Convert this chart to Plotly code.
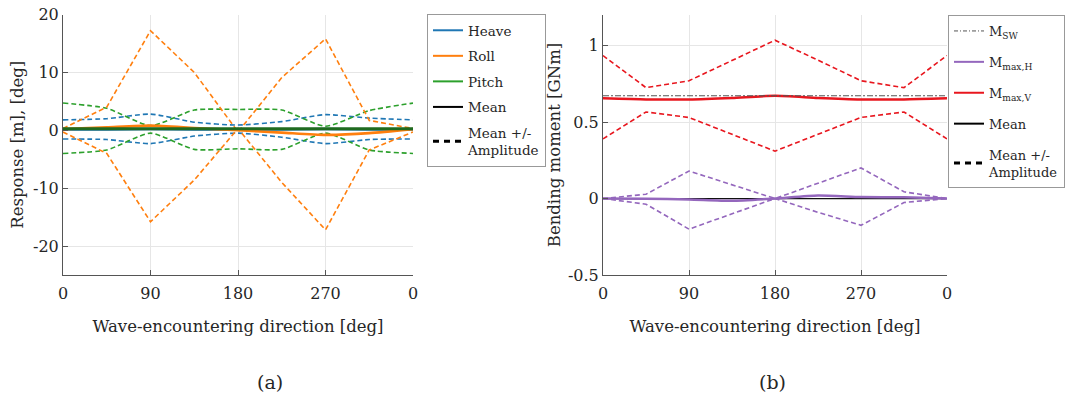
import plotly.graph_objects as go

# ---------------- data ----------------
direction = [0, 45, 90, 135, 180, 225, 270, 315, 360]
tick_vals = [0, 90, 180, 270, 360]
tick_text = ["0", "90", "180", "270", "0"]
resp_ticks = [-20, -10, 0, 10, 20]
resp_labels = ["-20", "-10", "0", "10", "20"]
bm_ticks = [-0.5, 0, 0.5, 1]
bm_labels = ["-0.5", "0", "0.5", "1"]

# (a) motions
heave_mean = [0.15, 0.15, 0.2, 0.15, 0.15, 0.15, 0.2, 0.15, 0.15]
heave_upper = [1.8, 2.0, 2.8, 1.4, 0.9, 1.5, 2.7, 2.1, 1.8]
heave_lower = [-1.5, -1.6, -2.3, -1.0, -0.5, -1.2, -2.3, -1.6, -1.5]

roll_mean = [0.2, 0.5, 0.8, 0.4, 0.0, -0.4, -0.8, -0.5, 0.2]
roll_upper = [0.3, 4.0, 17.2, 10.0, -0.3, 9.1, 15.8, 1.7, 0.3]
roll_lower = [-0.3, -4.0, -15.8, -8.6, 0.3, -9.0, -17.2, -3.4, -0.3]

pitch_mean = [0.25, 0.25, 0.25, 0.25, 0.25, 0.25, 0.25, 0.25, 0.25]
pitch_upper = [4.7, 3.8, 0.8, 3.5, 3.6, 3.5, 0.7, 3.4, 4.7]
pitch_lower = [-4.0, -3.4, -0.5, -3.3, -3.2, -3.3, -0.5, -3.4, -4.0]

# (b) bending moments
msw = [0.672] * 9
mh_mean = [0.0, -0.002, -0.006, -0.015, 0.0, 0.02, 0.01, 0.008, 0.0]
mh_upper = [0.0, 0.028, 0.18, 0.09, 0.0, 0.1, 0.2, 0.044, 0.0]
mh_lower = [0.0, -0.037, -0.2, -0.1, 0.0, -0.09, -0.175, -0.026, 0.0]
mv_mean = [0.655, 0.648, 0.648, 0.658, 0.672, 0.658, 0.648, 0.648, 0.655]
mv_upper = [0.935, 0.725, 0.77, 0.905, 1.035, 0.905, 0.77, 0.725, 0.935]
mv_lower = [0.39, 0.566, 0.53, 0.42, 0.31, 0.42, 0.53, 0.566, 0.39]
zero_line = [0.0] * 9

# ---------------- style ----------------
BLUE = "#1f77b4"
ORANGE = "#ff7f0e"
GREEN = "#2ca02c"
RED = "#e8161e"
PURPLE = "#9467bd"
FONT = "DejaVu Serif"
TXT = "#262626"
DASH = "5px,3px"

fig = go.Figure()


def add(x, y, color, width, dash, xa, ya, shape="linear"):
    line = dict(color=color, width=width, dash=dash, shape=shape)
    if shape == "spline":
        line["smoothing"] = 0.6
    fig.add_trace(go.Scatter(x=x, y=y, mode="lines", xaxis=xa, yaxis=ya,
                             line=line, showlegend=False, hoverinfo="skip"))


# panel (a)
add(direction, heave_upper, BLUE, 1.6, DASH, "x", "y", "spline")
add(direction, heave_lower, BLUE, 1.6, DASH, "x", "y", "spline")
add(direction, pitch_upper, GREEN, 1.6, DASH, "x", "y", "spline")
add(direction, pitch_lower, GREEN, 1.6, DASH, "x", "y", "spline")
add(direction, roll_upper, ORANGE, 1.6, DASH, "x", "y")
add(direction, roll_lower, ORANGE, 1.6, DASH, "x", "y")
add(direction, heave_mean, BLUE, 2.5, "solid", "x", "y", "spline")
add(direction, roll_mean, ORANGE, 2.6, "solid", "x", "y", "spline")
add(direction, pitch_mean, "#1f6a1f", 3, "solid", "x", "y", "spline")

# panel (b)
add(direction, zero_line, "#111111", 1.2, "solid", "x2", "y2")
add(direction, mh_upper, PURPLE, 1.6, DASH, "x2", "y2")
add(direction, mh_lower, PURPLE, 1.6, DASH, "x2", "y2")
add(direction, mv_upper, RED, 1.6, DASH, "x2", "y2")
add(direction, mv_lower, RED, 1.6, DASH, "x2", "y2")
add(direction, mh_mean, PURPLE, 2.5, "solid", "x2", "y2", "spline")
add(direction, mv_mean, RED, 2.5, "solid", "x2", "y2", "spline")
add(direction, msw, "#555555", 1.2, "6px,2px,2px,2px", "x2", "y2")


# legend entries
def leg(name, color, dash, legend, group, width=2):
    fig.add_trace(go.Scatter(
        x=[None], y=[None], mode="lines", name=name, legend=legend,
        legendgroup=group, line=dict(color=color, width=width, dash=dash),
        xaxis="x" if legend == "legend" else "x2",
        yaxis="y" if legend == "legend" else "y2"))


leg("Heave", BLUE, "solid", "legend", "a1")
leg("Roll", ORANGE, "solid", "legend", "a2")
leg("Pitch", GREEN, "solid", "legend", "a3")
leg("Mean", "black", "solid", "legend", "a4")
leg("Mean +/-<br>Amplitude", "black", "6px,5px", "legend", "a5", 3)

leg("M<sub>SW</sub>", "#555555", "4px,2px,1px,2px", "legend2", "b1", 1)
leg("M<sub>max,H</sub>", PURPLE, "solid", "legend2", "b2")
leg("M<sub>max,V</sub>", RED, "solid", "legend2", "b3")
leg("Mean", "black", "solid", "legend2", "b4")
leg("Mean +/-<br>Amplitude", "black", "6px,5px", "legend2", "b5", 3)

W, H = 1065, 396
axis_common = dict(
    showgrid=True, gridcolor="#e6e6e6", gridwidth=1,
    showline=True, linecolor="#555555", linewidth=1,
    ticks="inside", ticklen=5, tickcolor="#555555",
    zeroline=False, automargin=False,
    tickfont=dict(family=FONT, size=16, color=TXT),
)
xa = dict(axis_common, tickmode="array", tickvals=tick_vals, ticktext=tick_text,
          range=[0, 360], ticklabelstandoff=4,
          title=dict(text="Wave-encountering direction [deg]",
                     font=dict(family=FONT, size=16.5, color=TXT), standoff=18))

fig.update_layout(
    width=W, height=H,
    margin=dict(l=0, r=0, t=0, b=0, autoexpand=False),
    paper_bgcolor="white", plot_bgcolor="white",
    font=dict(family=FONT, size=13, color=TXT),
    xaxis=dict(xa, domain=[63 / W, 413 / W], anchor="y"),
    yaxis=dict(axis_common, domain=[1 - 275 / H, 1 - 14.5 / H], anchor="x",
               range=[-25, 20], tickmode="array", tickvals=resp_ticks,
               ticktext=resp_labels,
               title=dict(text="Response [m], [deg]",
                          font=dict(family=FONT, size=16.5, color=TXT), standoff=5)),
    xaxis2=dict(xa, domain=[603 / W, 947 / W], anchor="y2"),
    yaxis2=dict(axis_common, domain=[1 - 275 / H, 1 - 15 / H], anchor="x2",
                range=[-0.5, 1.2], tickmode="array", tickvals=bm_ticks,
                ticktext=bm_labels,
                title=dict(text="Bending moment [GNm]",
                           font=dict(family=FONT, size=16.5, color=TXT), standoff=3)),
    legend=dict(x=427 / W, y=1 - 14 / H, xanchor="left", yanchor="top",
                bordercolor="#999999", borderwidth=1, bgcolor="white",
                font=dict(family=FONT, size=13.5, color=TXT),
                traceorder="grouped", tracegroupgap=5, itemwidth=30),
    legend2=dict(x=1.0, y=1 - 15 / H, xanchor="right", yanchor="top",
                 bordercolor="#999999", borderwidth=1, bgcolor="white",
                 font=dict(family=FONT, size=13, color=TXT),
                 traceorder="grouped", tracegroupgap=11, itemwidth=30),
    annotations=[
        dict(text="(a)", x=255 / W, y=1 - 382 / H, xref="paper", yref="paper",
             yanchor="middle", showarrow=False,
             font=dict(family=FONT, size=19, color=TXT)),
        dict(text="(b)", x=788 / W, y=1 - 382 / H, xref="paper", yref="paper",
             yanchor="middle", showarrow=False,
             font=dict(family=FONT, size=19, color=TXT)),
    ],
)

fig.write_html("out.html")
